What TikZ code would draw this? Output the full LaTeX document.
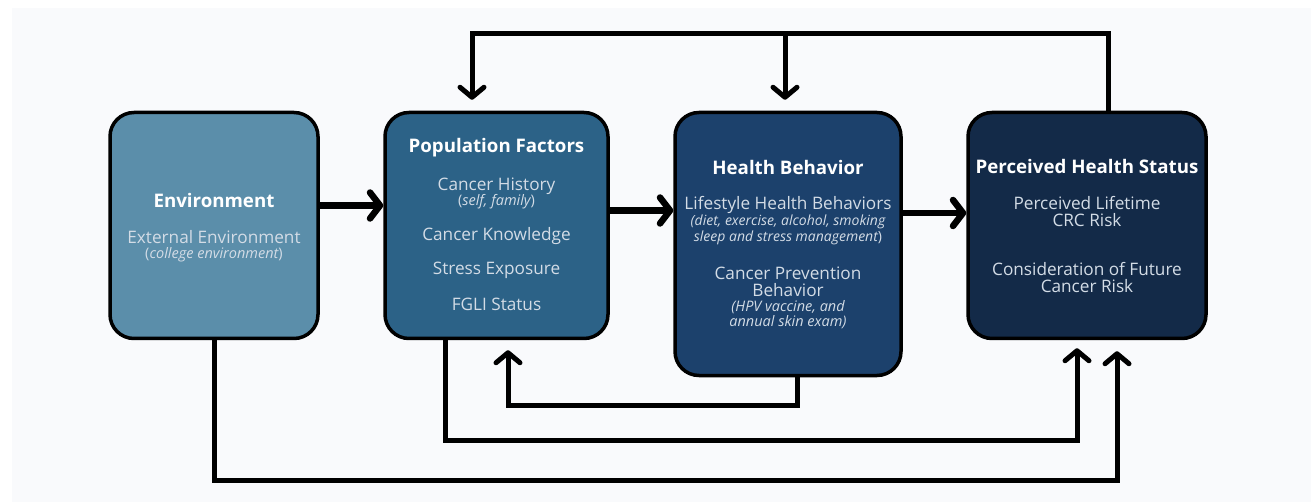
\documentclass[tikz,border=0pt]{standalone}
\usepackage{fontspec}
\setmainfont{Open Sans}
\usetikzlibrary{arrows.meta,positioning}
\definecolor{envblue}{HTML}{5B8EAA}
\definecolor{popblue}{HTML}{2C6287}
\definecolor{behblue}{HTML}{1C416C}
\definecolor{statblue}{HTML}{132A48}
\definecolor{bodytxt}{HTML}{D3DCE6}
\definecolor{pagebg}{HTML}{F9FAFC}
\newcommand\notefont{\fontsize{14.5}{15.5}\selectfont\itshape}

\tikzset{
  box/.style={draw=black, line width=3.5pt, rounded corners=24pt, inner sep=0pt},
  title/.style={text=white, inner sep=0pt, font=\fontsize{18.7}{20}\selectfont\bfseries},
  body/.style={text=bodytxt, inner sep=0pt, align=center, font=\fontsize{17.2}{17}\selectfont},
  note/.style={text=bodytxt, inner sep=0pt, align=center, font=\notefont},
  link/.style={line width=5pt, -{Straight Barb[length=10pt,width=24pt,round]}},
  bigarrow/.style={line width=6.5pt, -{Straight Barb[length=10pt,width=26pt,round]}},
}

\begin{document}
\begin{tikzpicture}[x=1pt,y=-1pt]
	\useasboundingbox (0,0) rectangle (1311,502);
	\fill[white] (0,0) rectangle (1311,502);
	\fill[pagebg] (12,8) rectangle (1311,502);

	% the four stages
	\node[box, fill=envblue, minimum width=208pt, minimum height=226pt] (env) at (214,225.5) {};
	\node[box, fill=popblue, minimum width=223pt, minimum height=226pt] (pf) at (496.5,225.5) {};
	\node[box, fill=behblue, minimum width=226pt, minimum height=263pt] (hb) at (788,244) {};
	\node[box, fill=statblue, minimum width=238pt, minimum height=226pt] (phs) at (1087,225.5) {};

	% environment
	\node[title] (envtitle) at (214,200) {Environment};
	\node[body] (envext) at (214,246.5) {External Environment\\[-2pt]{\notefont\upshape(\itshape college environment\upshape)}};

	% population factors
	\node[title] (pftitle) at (496.5,148) {Population Factors};
	\node[body] (pfhist) at (496.5,193.5) {Cancer History\\[-2pt]{\notefont\upshape(\itshape self, family\upshape)}};
	\node[body] (pfknow) at (496.5,236) {Cancer Knowledge};
	\node[body] (pfstress) at (496.5,270) {Stress Exposure};
	\node[body] (pffgli) at (496.5,304) {FGLI Status};

	% health behavior
	\node[title] (hbtitle) at (788,167) {Health Behavior};
	\node[body] (hblife) at (788,205) {Lifestyle Health Behaviors};
	\node[note, font=\fontsize{14}{16}\selectfont\itshape] (hblifenote) at (788,229.5) {(diet, exercise, alcohol, smoking\\sleep and stress management\upshape)};
	\node[body] (hbprev) at (788,281.5) {Cancer Prevention\\Behavior};
	\node[note] (hbprevnote) at (788,314.5) {(HPV vaccine, and\\annual skin exam)};

	% perceived health status
	\node[title] (phstitle) at (1087,166) {Perceived Health Status};
	\node[body] (phsrisk) at (1087,211.5) {Perceived Lifetime\\CRC Risk};
	\node[body] (phsfuture) at (1087,277.5) {Consideration of Future\\Cancer Risk};

	% ports and lanes for the connectors
	\coordinate (ridge) at (472,34);
	\coordinate (lane1) at (0,405);
	\coordinate (lane2) at (0,440);
	\coordinate (lane3) at (0,480);
	\coordinate (phsup) at ([xshift=21pt]phs.north);
	\coordinate (pfout) at ([xshift=-51.5pt]pf.south);
	\coordinate (pfin) at ([xshift=11.5pt]pf.south);
	\coordinate (hbout) at ([xshift=9pt]hb.south);
	\coordinate (phsin1) at ([xshift=-10pt]phs.south);
	\coordinate (phsin2) at ([xshift=30pt]phs.south);

	% main chain
	\draw[bigarrow] ([yshift=20pt]env.east) -- ([yshift=20pt]env.east -| pf.west);
	\draw[bigarrow] ([yshift=15pt]pf.east) -- ([yshift=15pt]pf.east -| hb.west);
	\draw[bigarrow] ([yshift=31pt]hb.east) -- ([yshift=31pt]hb.east -| phs.west);

	% feedback over the top
	\draw[link, shorten >=11pt] (phsup) |- (ridge) -- (ridge |- pf.north);
	\draw[link, shorten >=11pt] ([xshift=-3pt]hb.north |- ridge) -- ([xshift=-3pt]hb.north);

	% lines underneath
	\draw[link, shorten >=10pt] (hbout) |- (pfin |- lane1) -- (pfin);
	\draw[link, shorten >=8pt] (pfout) |- (phsin1 |- lane2) -- (phsin1);
	\draw[link, shorten >=11pt] (env.south) |- (phsin2 |- lane3) -- (phsin2);
\end{tikzpicture}
\end{document}
